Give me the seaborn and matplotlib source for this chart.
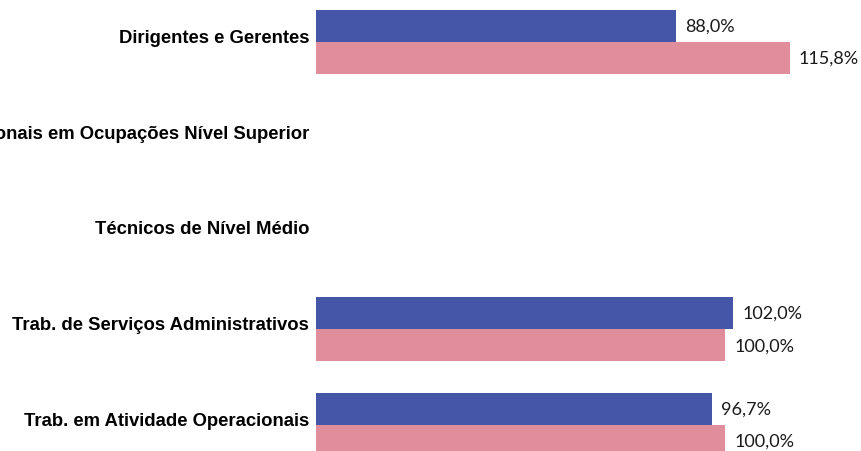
import numpy as np
import pandas as pd
import matplotlib
matplotlib.use("Agg")
import matplotlib.pyplot as plt
import seaborn as sns

categorias = ["Dirigentes e Gerentes",
              "Profissionais em Ocupações Nível Superior",
              "Técnicos de Nível Médio",
              "Trab. de Serviços Administrativos",
              "Trab. em Atividade Operacionais"]
serie_a = [88.0, np.nan, np.nan, 102.0, 96.7]
serie_b = [115.8, np.nan, np.nan, 100.0, 100.0]
series = ["A", "B"]
cores = ["#4556A9", "#E08E9C"]

df = pd.DataFrame({
    "categoria": categorias * 2,
    "valor": serie_a + serie_b,
    "serie": [series[0]] * 5 + [series[1]] * 5,
})

sns.set_style("white")
plt.rcParams['font.family'] = ['Liberation Sans', 'DejaVu Sans']

fig = plt.figure(figsize=(8.62, 4.52), dpi=100)
ax = fig.add_axes([316 / 862, 0, 546 / 862, 1])

sns.barplot(data=df, y="categoria", x="valor", hue="serie", order=categorias,
            hue_order=series, palette=cores, width=0.67, orient="h",
            saturation=1, legend=False, ax=ax, linewidth=0)

# rótulos de valor no formato brasileiro
for cont in ax.containers:
    labels = ["" if np.isnan(v) else f"{v:.1f}%".replace(".", ",") for v in cont.datavalues]
    ax.bar_label(cont, labels=labels, padding=6.5, fontsize=13, family="Lato",
                 color="#1a1a1a")

ax.set_xlim(0, 546 / 4.09)
ax.set_ylim((452 - 43) / 95.7, -43 / 95.7)
ax.set_xlabel("")
ax.set_ylabel("")
ax.set_xticks([])
for s in ax.spines.values():
    s.set_visible(False)
ax.tick_params(axis="y", length=0, pad=5, labelcolor="black")
for t in ax.get_yticklabels():
    t.set_fontweight("bold")
    t.set_fontsize(13.3)
    t.set_va("baseline")

fig.savefig("out.png", dpi=100)
